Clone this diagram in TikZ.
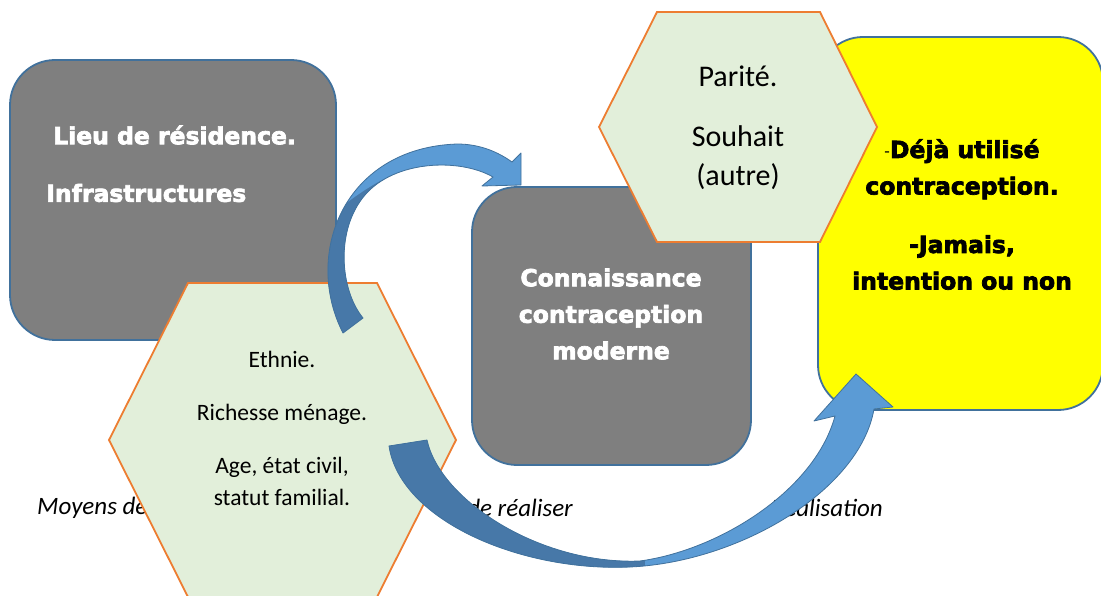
\documentclass[tikz,border=0pt]{standalone}
\usepackage{fontspec}
\setmainfont{Carlito}
\newfontfamily\heavyfont[FakeBold=3]{DejaVu Sans Bold}

\definecolor{edgeblue}{HTML}{41719C}
\definecolor{boxgray}{HTML}{7F7F7F}
\definecolor{boxyellow}{HTML}{FFFF00}
\definecolor{hexorange}{HTML}{ED7D31}
\definecolor{hexgreen}{HTML}{E2EFDA}
\definecolor{arrowlight}{HTML}{5B9BD5}
\definecolor{arrowdark}{HTML}{4778A8}

% outlines of the two curved block arrows
\def\arrowone{(343,333) .. controls (303,255) and (343,148) .. (457,144)
  .. controls (480,144) and (498,152) .. (512,162) -- (521,153) -- (521,185)
  -- (482,186) -- (493,177) .. controls (460,158) and (395,160) .. (365,195)
  .. controls (335,230) and (340,290) .. (363,318) -- cycle}
\def\arrowtwo{(389,446) .. controls (400,520) and (520,572) .. (630,567)
  .. controls (740,562) and (860,490) .. (874,409) -- (893,407) -- (856,374)
  -- (814,421) -- (835,416) .. controls (815,490) and (720,550) .. (640,561)
  .. controls (540,565) and (440,500) .. (427,440) -- cycle}

\begin{document}
\begin{tikzpicture}[x=1pt,y=-1pt,
box/.style={draw=edgeblue,line width=1.8pt,rounded corners=45pt},
hexa/.style={draw=hexorange,fill=hexgreen,line width=1.8pt},
boxtext/.style={font=\heavyfont\fontsize{23.5}{36.5}\selectfont,align=center,inner sep=0pt},
hextext/.style={font=\fontsize{23.5}{32}\selectfont,align=center,inner sep=0pt},
note/.style={font=\itshape\fontsize{25}{30}\selectfont,inner sep=0pt},
arrowline/.style={draw=edgeblue,line width=0.8pt,line join=round}]
\useasboundingbox (0,0) rectangle (1101,596);

% boxes on the right
\node[box,fill=boxyellow,minimum width=285pt,minimum height=373pt] (done) at (960.5,223.5) {};
\node[box,fill=boxgray,minimum width=279pt,minimum height=278pt] (know) at (611.5,326) {};
\node[boxtext,text=white] (knowtext) at (611,314) {Connaissance\\contraception\\moderne};
\node[boxtext] (donetext) at (962,214.5) {{\normalfont\fontsize{18}{36}\selectfont-}Déjà utilisé\\contraception.\\[22pt]-Jamais,\\intention ou non};

% top hexagon
\draw[hexa] (657,12) -- (820,12) -- (877,127) -- (820,242) -- (657,242) -- (599,127) -- cycle;
\node[hextext,font=\fontsize{30}{39}\selectfont] (wish) at (738,127.5) {Parité.\\[21pt]Souhait\\(autre)};

% left box
\node[box,fill=boxgray,minimum width=326pt,minimum height=280pt] (place) at (173,200) {};
\node[boxtext,text=white,anchor=west] (placeA) at (53,135) {Lieu de résidence.};
\node[boxtext,text=white,anchor=west] (placeB) at (46,193) {Infrastructures};

% captions
\node[note,anchor=west] (means) at (37,508) {Moyens de};
\node[note,anchor=east] (will) at (573,508) {de réaliser};
\node[note,anchor=east] (real) at (883,508) {Réalisation};

% bottom hexagon
\draw[hexa] (188,283) -- (377,283) -- (456,440) -- (377,597) -- (188,597) -- (109,440) -- cycle;
\node[hextext] (who) at (282,428.5) {Ethnie.\\[21pt]Richesse ménage.\\[21pt]Age, état civil,\\statut familial.};

% arrows
\fill[arrowlight] \arrowone;
\begin{scope}
\clip \arrowone;
\fill[arrowdark] (280,360) -- (280,205) -- (340,208) .. controls (370,185) and (395,170) .. (425,166) -- (425,360) -- cycle;
\end{scope}
\draw[arrowline] \arrowone;

\fill[arrowlight] \arrowtwo;
\begin{scope}
\clip \arrowtwo;
\fill[arrowdark] (380,400) rectangle (645,600);
\end{scope}
\draw[arrowline] \arrowtwo;
\end{tikzpicture}
\end{document}
